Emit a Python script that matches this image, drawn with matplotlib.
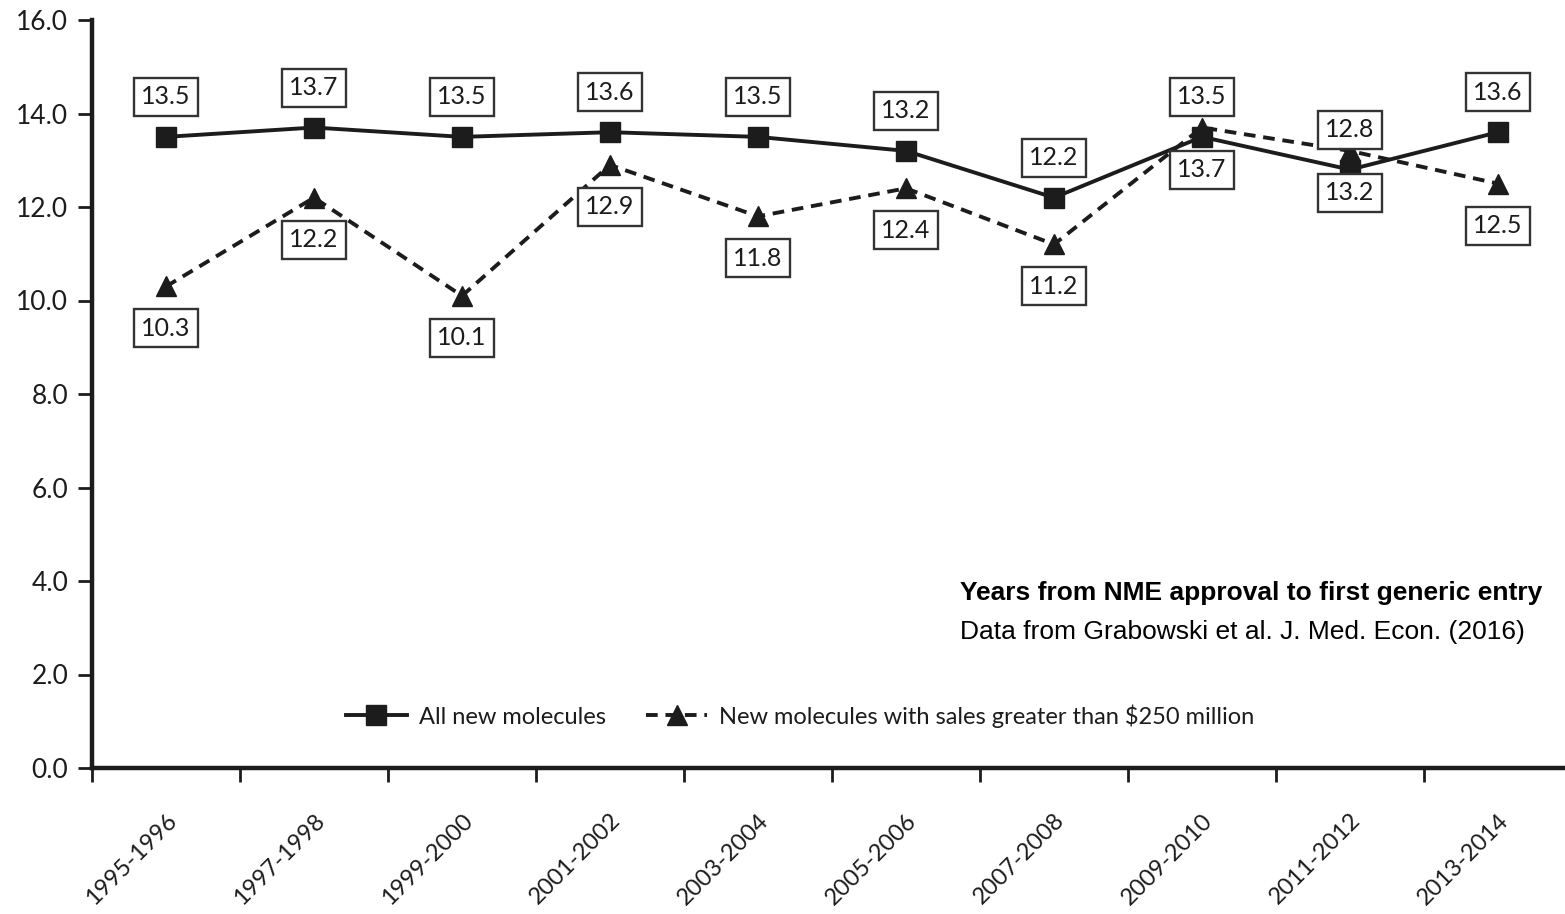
import numpy as np
import matplotlib
matplotlib.use("Agg")
import matplotlib.pyplot as plt

periods = ["1995-1996", "1997-1998", "1999-2000", "2001-2002", "2003-2004",
           "2005-2006", "2007-2008", "2009-2010", "2011-2012", "2013-2014"]
all_new = [13.5, 13.7, 13.5, 13.6, 13.5, 13.2, 12.2, 13.5, 12.8, 13.6]
big_sellers = [10.3, 12.2, 10.1, 12.9, 11.8, 12.4, 11.2, 13.7, 13.2, 12.5]
y_ticks = [0, 2, 4, 6, 8, 10, 12, 14, 16]

label_font = "Lato"
ink = "#1c1c1c"

W, H = 1565, 914
fig = plt.figure(figsize=(W / 100, H / 100), dpi=100)
ax = fig.add_axes([92 / W, (H - 768) / H, 1480 / W, 748 / H])

x = np.arange(len(periods))
ax.plot(x, all_new, color=ink, lw=2.8, marker="s", ms=14, zorder=3,
        label="All new molecules")
ax.plot(x, big_sellers, color=ink, lw=2.8, dashes=(3, 2), marker="^", ms=15,
        zorder=3, label="New molecules with sales greater than $250 million")

box = dict(boxstyle="square,pad=0.3", fc="white", ec="#333333", lw=1.7)
for xi, v in zip(x, all_new):
    ax.annotate(f"{v:.1f}", (xi, v), xytext=(0, 40), textcoords="offset pixels",
                ha="center", va="center", fontsize=18, family=label_font,
                color=ink, bbox=box, zorder=5)
for xi, v in zip(x, big_sellers):
    ax.annotate(f"{v:.1f}", (xi, v), xytext=(0, -42), textcoords="offset pixels",
                ha="center", va="center", fontsize=18, family=label_font,
                color=ink, bbox=box, zorder=5)

ax.set_xlim(-0.5, 9.5)
ax.set_ylim(0, 16)

# category boundaries carry the tick marks, centers carry the labels
ax.set_xticks(np.arange(-0.5, 10, 1))
ax.set_xticklabels([])
ax.set_xticks(x, minor=True)
ax.set_xticklabels(periods, minor=True, rotation=45, ha="right",
                   rotation_mode="anchor", family=label_font, fontsize=17,
                   color=ink)
ax.tick_params(axis="x", which="major", length=10, width=2, direction="out",
               color=ink)
ax.tick_params(axis="x", which="minor", length=0, pad=30)

ax.set_yticks(y_ticks)
ax.set_yticklabels([f"{t:.1f}" for t in y_ticks], family=label_font,
                   fontsize=19, color=ink)
ax.tick_params(axis="y", length=10, width=2, direction="out", color=ink, pad=7)

for s in ("top", "right"):
    ax.spines[s].set_visible(False)
for s in ("left", "bottom"):
    ax.spines[s].set_linewidth(3.2)
    ax.spines[s].set_color(ink)

leg = ax.legend(loc="center", bbox_to_anchor=((800 - 92) / 1480, (768 - 716) / 748),
                ncol=2, frameon=False, handlelength=2.6, columnspacing=1.7,
                handletextpad=0.5, prop={"family": label_font, "size": 17})
for t in leg.get_texts():
    t.set_color(ink)

fig.text(960 / W, 1 - 593 / H, "Years from NME approval to first generic entry",
         family="Liberation Sans", fontweight="bold", fontsize=19,
         ha="left", va="center", color="black")
fig.text(960 / W, 1 - 632 / H, "Data from Grabowski et al. J. Med. Econ. (2016)",
         family="Liberation Sans", fontsize=19, ha="left", va="center",
         color="black")

fig.savefig("out.png", dpi=100)
